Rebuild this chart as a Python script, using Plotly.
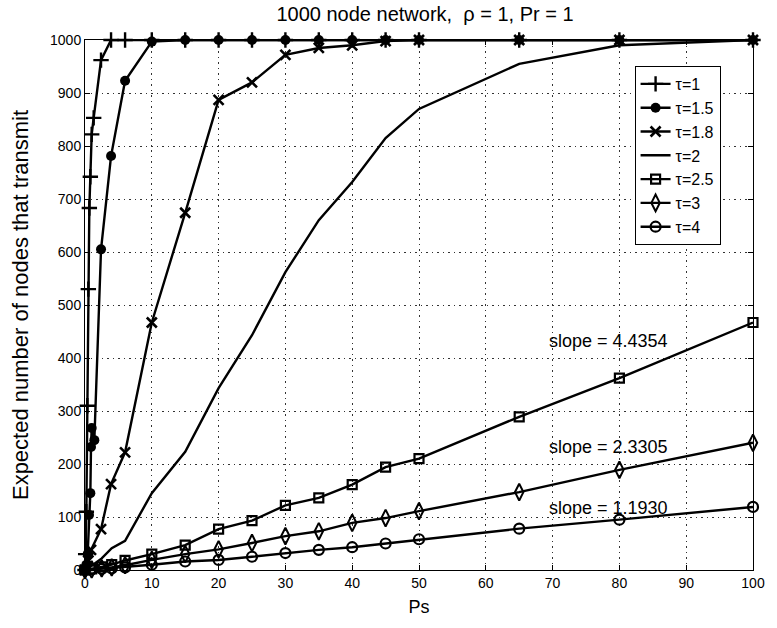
import plotly.graph_objects as go

# ---- data ----
ps_t1 = [0, 0.1, 0.2, 0.35, 0.5, 0.65, 0.8, 1.0, 1.3, 2.4, 3.9, 6, 10, 15, 20, 25, 30, 35, 40, 45, 50, 65, 80, 100]
n_t1 = [0, 30, 110, 310, 530, 683, 742, 822, 853, 962, 1000, 1000, 1000, 1000, 1000, 1000, 1000, 1000, 1000, 1000, 1000, 1000, 1000, 1000]

ps_t15 = [0, 0.2, 0.4, 0.6, 0.8, 0.9, 1.0, 1.4, 2.4, 3.9, 6, 10, 15, 20, 25, 30, 35, 40, 45, 50, 65, 80, 100]
n_t15 = [0, 10, 30, 104, 145, 232, 268, 245, 605, 781, 923, 997, 1000, 1000, 1000, 1000, 1000, 1000, 1000, 1000, 1000, 1000, 1000]

ps_t18 = [0, 0.5, 0.9, 2.4, 3.9, 6, 10, 15, 20, 25, 30, 35, 40, 45, 50, 65, 80, 100]
n_t18 = [0, 18, 38, 77, 162, 222, 467, 674, 887, 920, 972, 985, 990, 998, 1000, 1000, 1000, 1000]

ps_t2 = [0, 1, 2.5, 4, 6, 10, 15, 20, 25, 30, 35, 40, 45, 50, 65, 80, 100]
n_t2 = [0, 8, 22, 41, 55, 145, 223, 343, 443, 562, 660, 732, 815, 870, 955, 990, 1000]

ps_std = [0, 1, 2.5, 4, 6, 10, 15, 20, 25, 30, 35, 40, 45, 50, 65, 80, 100]
n_t25 = [0, 2, 6, 10, 18, 30, 47, 77, 93, 122, 136, 161, 194, 210, 289, 362, 467]
n_t3 = [0, 1, 3, 5, 9, 19, 30, 39, 51, 64, 73, 89, 98, 111, 147, 189, 240]
n_t4 = [0, 1, 2, 3, 5, 10, 16, 19, 25, 32, 38, 43, 50, 58, 78, 95, 119]

legend_names = ["τ=1", "τ=1.5", "τ=1.8", "τ=2", "τ=2.5", "τ=3", "τ=4"]
slope_texts = ["slope = 4.4354", "slope = 2.3305", "slope = 1.1930"]
slope_pos_x = [87.5, 87.5, 87.5]
slope_pos_y = [432, 232, 117]

x_ticks = list(range(0, 101, 10))
y_ticks = list(range(0, 1001, 100))

# ---- figure ----
series = [
    (ps_t1, n_t1, dict(symbol="cross-thin", size=11, line=dict(width=2.4, color="black"))),
    (ps_t15, n_t15, dict(symbol="circle", size=10, color="black")),
    (ps_t18, n_t18, dict(symbol="x-thin", size=10, line=dict(width=2.6, color="black"))),
    (ps_t2, n_t2, None),
    (ps_std, n_t25, dict(symbol="square-open", size=9, color="black", line=dict(width=2.2, color="black"))),
    (ps_std, n_t3, dict(symbol="diamond-tall-open", size=12, color="black", line=dict(width=2, color="black"))),
    (ps_std, n_t4, dict(symbol="circle-open", size=10, color="black", line=dict(width=2.2, color="black"))),
]

fig = go.Figure()
for (xs, ys, mk), name in zip(series, legend_names):
    if mk is None:
        fig.add_trace(go.Scatter(x=xs, y=ys, mode="lines", name=name,
                                 line=dict(color="black", width=2.4), cliponaxis=False))
    else:
        fig.add_trace(go.Scatter(x=xs, y=ys, mode="lines+markers", name=name,
                                 line=dict(color="black", width=2.4), marker=mk, cliponaxis=False))

for t, xx, yy in zip(slope_texts, slope_pos_x, slope_pos_y):
    fig.add_annotation(x=xx, y=yy, text=t, showarrow=False, xref="x", yref="y",
                       xanchor="right", font=dict(size=18, color="black"))

axis_common = dict(showline=True, linecolor="black", linewidth=1, mirror="allticks",
                   ticks="inside", ticklen=5, tickcolor="black",
                   showgrid=True, gridcolor="#333333", griddash="1.5px,4px", gridwidth=1,
                   zeroline=False, tickfont=dict(size=14, color="black"))

fig.update_layout(
    width=777, height=628,
    margin=dict(l=85, r=12, t=40, b=58),
    paper_bgcolor="white", plot_bgcolor="white",
    font=dict(family="Liberation Sans, Arial, sans-serif", color="black"),
    title=dict(text="1000 node network,  ρ = 1, Pr = 1", x=(85 + 340) / 777, xanchor="center",
               y=1 - 14 / 628, yanchor="middle", font=dict(size=20)),
    xaxis=dict(range=[0, 100], tickvals=x_ticks,
               title=dict(text="Ps", font=dict(size=18), standoff=10), **axis_common),
    yaxis=dict(range=[0, 1000], tickvals=y_ticks,
               title=dict(text="Expected number of nodes that transmit", font=dict(size=22), standoff=15),
               **axis_common),
    legend=dict(x=(732 - 85) / 680, xanchor="right", y=(570 - 66) / 530, yanchor="top",
                bordercolor="black", borderwidth=1, bgcolor="white",
                font=dict(size=16, color="black")),
    showlegend=True,
)

fig.write_html("out.html", config={"displayModeBar": False},
               post_script="document.body.style.margin='0px';")
